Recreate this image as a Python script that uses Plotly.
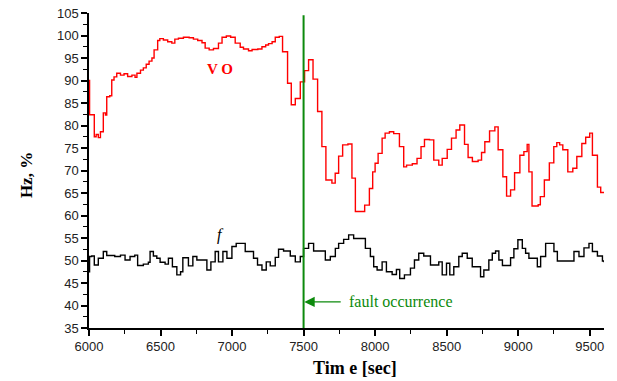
import plotly.graph_objects as go

# VO series (step changes): time [sec], value [%]
vo_t = [6000, 6004, 6037, 6050, 6065, 6080, 6100, 6115, 6124, 6145, 6159, 6175, 6194, 6220, 6245,
        6270, 6300, 6322, 6335, 6360, 6380, 6400, 6420, 6440, 6455, 6480, 6495, 6520, 6550, 6579,
        6600, 6625, 6660, 6700, 6730, 6760, 6790, 6812, 6840, 6870, 6905, 6930, 6960, 6990, 7022,
        7057, 7080, 7115, 7140, 7180, 7209, 7235, 7255, 7280, 7302, 7330, 7353, 7388, 7414, 7442,
        7477, 7507, 7535, 7566, 7598, 7628, 7656, 7698, 7721, 7745, 7773, 7810, 7838, 7862, 7927,
        7960, 7983, 8000, 8021, 8049, 8070, 8100, 8130, 8170, 8200, 8220, 8260, 8293, 8321, 8345,
        8380, 8410, 8445, 8469, 8504, 8534, 8566, 8592, 8625, 8650, 8680, 8720, 8744, 8767, 8800,
        8837, 8860, 8893, 8919, 8947, 8975, 9012, 9040, 9063, 9075, 9097, 9140, 9155, 9183, 9218,
        9249, 9270, 9290, 9312, 9347, 9382, 9410, 9445, 9472, 9500, 9519, 9554, 9577, 9600]
vo_v = [90.0, 82.4, 77.5, 78.0, 77.3, 78.6, 82.8, 82.3, 86.4, 86.6, 90.1, 90.8, 91.6, 91.2, 91.5,
        90.9, 91.2, 90.7, 91.6, 92.3, 92.8, 93.6, 94.3, 95.0, 96.8, 98.9, 99.3, 99.0, 98.6, 98.3,
        99.2, 99.4, 99.6, 99.5, 99.2, 98.9, 98.4, 97.2, 96.8, 97.1, 98.3, 99.6, 99.9, 99.6, 98.3,
        97.4, 97.0, 96.6, 96.9, 97.0, 97.5, 97.9, 98.2, 98.6, 99.6, 99.8, 96.4, 89.4, 84.6, 86.0,
        89.7, 92.2, 94.6, 90.3, 83.1, 75.3, 67.9, 67.2, 69.4, 73.2, 75.7, 75.9, 68.3, 60.9, 62.3,
        66.0, 69.7, 71.6, 73.8, 77.2, 78.3, 78.6, 78.2, 75.3, 70.8, 71.2, 71.5, 72.7, 75.3, 76.9,
        76.8, 72.3, 71.2, 72.7, 74.7, 77.2, 79.0, 80.1, 75.8, 72.9, 72.0, 72.3, 74.0, 76.4, 78.8,
        79.7, 74.6, 68.6, 64.3, 65.7, 69.5, 73.4, 74.2, 75.8, 69.7, 62.1, 62.4, 64.2, 67.9, 71.7,
        75.3, 76.2, 75.7, 74.6, 69.7, 70.5, 73.1, 76.0, 77.4, 78.3, 73.4, 66.3, 65.1, 65.0]

# f series (step changes): time [sec], value [Hz]
f_t = [6000, 6004, 6019, 6037, 6065, 6100, 6124, 6180, 6220, 6252, 6287, 6320, 6340, 6380, 6415,
       6427, 6450, 6474, 6497, 6532, 6555, 6583, 6614, 6640, 6656, 6695, 6726, 6754, 6824, 6852,
       6882, 6905, 6936, 6964, 6999, 7029, 7092, 7150, 7178, 7209, 7239, 7267, 7302, 7325, 7360,
       7407, 7442, 7477, 7500, 7535, 7570, 7652, 7687, 7722, 7745, 7780, 7815, 7850, 7932, 7967,
       7990, 8014, 8049, 8079, 8119, 8149, 8172, 8205, 8247, 8275, 8305, 8340, 8387, 8445, 8469,
       8499, 8522, 8550, 8585, 8609, 8644, 8679, 8737, 8760, 8795, 8819, 8842, 8865, 8890, 8947,
       8970, 8998, 9029, 9052, 9075, 9134, 9157, 9192, 9250, 9274, 9390, 9425, 9460, 9495, 9519,
       9554, 9589, 9600]
f_v = [47.5, 50.9, 51.0, 49.0, 50.5, 52.0, 51.1, 50.9, 51.2, 50.1, 50.9, 51.2, 48.9, 49.2, 49.6,
       52.0, 51.0, 50.5, 49.6, 49.2, 50.5, 48.6, 46.8, 47.5, 50.6, 48.8, 50.9, 50.1, 47.9, 49.7,
       52.0, 49.7, 52.0, 50.5, 53.1, 53.8, 52.0, 50.5, 49.0, 47.9, 49.7, 48.8, 50.7, 52.5, 52.1,
       51.0, 49.7, 50.9, 52.7, 53.8, 52.1, 50.1, 50.9, 52.7, 53.8, 54.7, 55.7, 54.9, 52.7, 50.9,
       48.6, 47.9, 49.7, 47.5, 46.9, 48.0, 46.0, 46.8, 48.3, 50.1, 51.6, 51.0, 49.0, 49.7, 46.8,
       49.4, 46.8, 48.6, 50.9, 51.6, 50.5, 48.6, 46.4, 47.9, 50.1, 51.6, 52.1, 50.1, 48.9, 50.6,
       52.6, 54.6, 52.7, 51.6, 50.5, 48.6, 50.9, 53.8, 52.0, 49.9, 52.0, 50.9, 52.8, 53.8, 52.0,
       51.0, 49.9, 49.6]

fault_time = 7500
x_ticks = [6000, 6500, 7000, 7500, 8000, 8500, 9000, 9500]
y_ticks = [35, 40, 45, 50, 55, 60, 65, 70, 75, 80, 85, 90, 95, 100, 105]

green = "#0c8a0c"

fig = go.Figure()
fig.add_trace(go.Scatter(x=vo_t, y=vo_v, mode="lines", line=dict(color="#ff0000", width=1.4, shape="hv"),
                         name="VO", showlegend=False))
fig.add_trace(go.Scatter(x=f_t, y=f_v, mode="lines", line=dict(color="#000000", width=1.4, shape="hv"),
                         name="f", showlegend=False))

fig.add_shape(type="line", xref="x", yref="y", x0=fault_time, x1=fault_time, y0=35, y1=104.5,
              line=dict(color=green, width=2))

fig.add_annotation(x=fault_time + 5, y=40.8, ax=7770, ay=40.8, xref="x", yref="y", axref="x", ayref="y",
                   text="", showarrow=True, arrowhead=2, arrowsize=1.6, arrowwidth=1.3, arrowcolor=green)
fig.add_annotation(x=7805, y=40.8, xref="x", yref="y", text="fault occurrence", showarrow=False,
                   xanchor="left", yanchor="middle",
                   font=dict(family="Liberation Serif", size=16, color=green))
fig.add_annotation(x=6917, y=92.6, xref="x", yref="y", text="<b>V O</b>", showarrow=False,
                   font=dict(family="Liberation Serif", size=15, color="#ff0000"))
fig.add_annotation(x=6917, y=55.6, xref="x", yref="y", text="<i>f</i>", showarrow=False,
                   font=dict(family="Liberation Serif", size=16, color="#000000"))

# axis titles
fig.add_annotation(x=0.517, y=-0.127, xref="paper", yref="paper", text="<b>Tim e [sec]</b>",
                   showarrow=False, xanchor="center", yanchor="middle",
                   font=dict(family="Liberation Serif", size=18, color="black"))
fig.add_annotation(x=-0.12, y=0.486, xref="paper", yref="paper", text="<b>Hz, %</b>", textangle=-90,
                   showarrow=False, xanchor="center", yanchor="middle",
                   font=dict(family="Liberation Serif", size=17, color="black"))

axis_common = dict(showline=True, linecolor="black", linewidth=1.5, ticks="outside", ticklen=6,
                   tickwidth=1.5, tickcolor="black", showgrid=False, zeroline=False, automargin=False,
                   tickfont=dict(family="Liberation Sans", size=13, color="#222222"))

fig.update_xaxes(range=[6000, 9600], tickvals=x_ticks, **axis_common,
                 minor=dict(dtick=250, tick0=6000, ticks="outside", ticklen=4, tickwidth=1.2, tickcolor="black"))
fig.update_yaxes(range=[35, 105], tickvals=y_ticks, **axis_common,
                 minor=dict(dtick=2.5, tick0=35, ticks="outside", ticklen=4, tickwidth=1.2, tickcolor="black"))

fig.update_layout(width=617, height=381, margin=dict(l=89, r=13, t=13, b=53),
                  plot_bgcolor="white", paper_bgcolor="white")

fig.write_html("out.html")
